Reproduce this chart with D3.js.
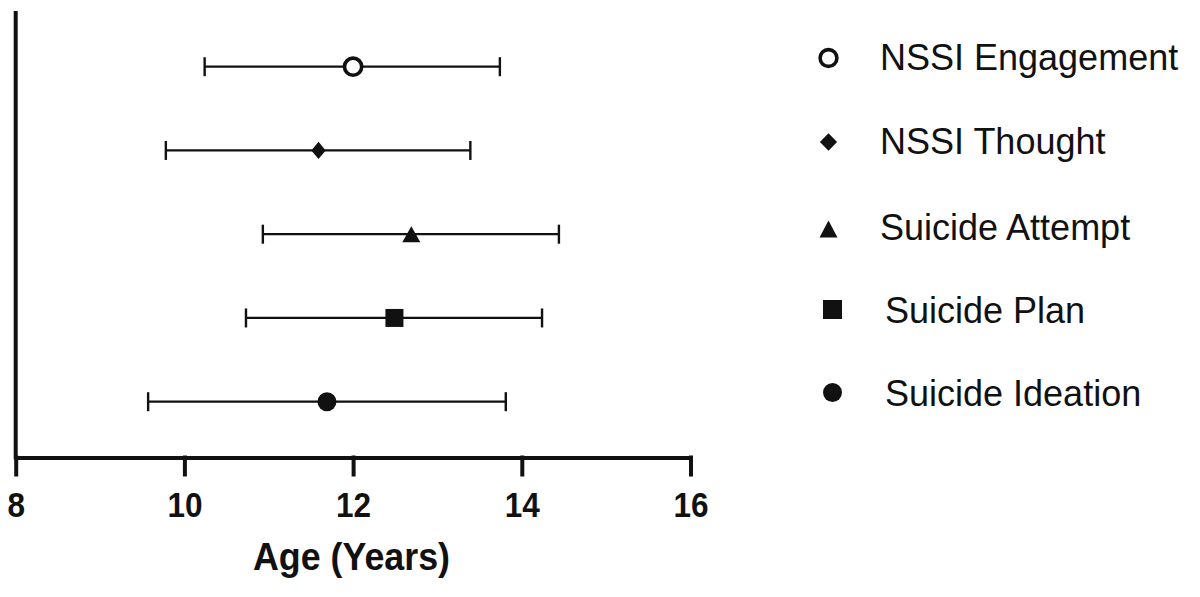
<!DOCTYPE html>
<html>
<head>
<meta charset="utf-8">
<script src="https://cdn.jsdelivr.net/npm/d3@7"></script>
<style>
  html, body { margin: 0; padding: 0; background: #fff; }
  svg { display: block; }
</style>
</head>
<body>
<svg id="chart" width="1200" height="597"></svg>
<script>
// ---- Data ----
const categories = ["NSSI Engagement", "NSSI Thought", "Suicide Attempt", "Suicide Plan", "Suicide Ideation"];
const meanAge   = [12.00, 11.59, 12.69, 12.49, 11.69];
const lowerAge  = [10.24,  9.78, 10.93, 10.73,  9.57];
const upperAge  = [13.74, 13.39, 14.44, 14.24, 13.81];
const markerTypes = ["circleOpen", "diamond", "triangle", "square", "circleFilled"];
const xTicks = [8, 10, 12, 14, 16];
const xTitle = "Age (Years)";

const ink = "#111";
const svg = d3.select("#chart");

const x = d3.scaleLinear().domain([8, 16]).range([15.7, 690.5]);
const y = d3.scalePoint().domain(categories).range([66.7, 401.7]);

// ---- marker drawing ----
function markerPath(type, s) {
  const p = d3.path();
  if (type === "circleOpen" || type === "circleFilled") {
    p.arc(0, 0, s.r, 0, 2 * Math.PI);
  } else if (type === "diamond") {
    p.moveTo(0, -s.hh); p.lineTo(s.hw, 0); p.lineTo(0, s.hh); p.lineTo(-s.hw, 0); p.closePath();
  } else if (type === "triangle") {
    p.moveTo(0, -s.h / 2); p.lineTo(s.w / 2, s.h / 2); p.lineTo(-s.w / 2, s.h / 2); p.closePath();
  } else if (type === "square") {
    p.rect(-s.a / 2, -s.a / 2, s.a, s.a);
  }
  return p.toString();
}
const chartSizes = {
  circleOpen: { r: 8.6 }, diamond: { hw: 7.2, hh: 8.6 }, triangle: { w: 18, h: 16 },
  square: { a: 18 }, circleFilled: { r: 9.5 }
};
const legendSizes = {
  circleOpen: { r: 8.4 }, diamond: { hw: 8.6, hh: 8.8 }, triangle: { w: 18, h: 17 },
  square: { a: 19 }, circleFilled: { r: 9.5 }
};
function styleMarker(sel, type) {
  if (type === "circleOpen") sel.attr("fill", "#fff").attr("stroke", ink).attr("stroke-width", 3.6);
  else sel.attr("fill", ink).attr("stroke", "none");
}

// ---- axes ----
const xAxis = d3.axisBottom(x).tickValues(xTicks).tickSize(19).tickSizeOuter(0).tickFormat(d3.format("d"));
const gx = svg.append("g").attr("transform", "translate(0,457.5)").call(xAxis);
gx.select(".domain").attr("stroke", ink).attr("stroke-width", 4);
gx.selectAll(".tick line").attr("stroke", ink).attr("stroke-width", 4).attr("y1", -2);
gx.selectAll(".tick text")
  .attr("fill", ink)
  .attr("y", 34.5).attr("dy", "0.71em")
  .style("font-family", "'Liberation Sans', Arial, sans-serif")
  .style("font-weight", "bold")
  .style("font-size", "35px")
  .attr("transform", function() { const t = d3.select(this.parentNode).attr("transform"); return null; });
// slight horizontal condensing of tick labels
gx.selectAll(".tick text").each(function() {
  const t = d3.select(this);
  t.attr("transform", "scale(0.9,1)");
});

// y axis line
svg.append("line")
  .attr("x1", x(8)).attr("x2", x(8))
  .attr("y1", 11).attr("y2", 459.5)
  .attr("stroke", ink).attr("stroke-width", 4);

// axis title
svg.append("text")
  .attr("x", 351.5).attr("y", 570)
  .attr("text-anchor", "middle")
  .attr("textLength", 197).attr("lengthAdjust", "spacingAndGlyphs")
  .style("font-family", "'Liberation Sans', Arial, sans-serif")
  .style("font-weight", "bold").style("font-size", "38px")
  .attr("fill", ink)
  .text(xTitle);

// ---- error bars ----
const rows = categories.map((c, i) => ({ c, m: meanAge[i], lo: lowerAge[i], hi: upperAge[i], type: markerTypes[i] }));
const g = svg.append("g");
g.selectAll("line.err").data(rows).join("line")
  .attr("class", "err")
  .attr("x1", d => x(d.lo)).attr("x2", d => x(d.hi))
  .attr("y1", d => y(d.c)).attr("y2", d => y(d.c))
  .attr("stroke", ink).attr("stroke-width", 2.2);
g.selectAll("line.capL").data(rows).join("line")
  .attr("class", "capL")
  .attr("x1", d => x(d.lo)).attr("x2", d => x(d.lo))
  .attr("y1", d => y(d.c) - 9.5).attr("y2", d => y(d.c) + 9.5)
  .attr("stroke", ink).attr("stroke-width", 2.4);
g.selectAll("line.capR").data(rows).join("line")
  .attr("class", "capR")
  .attr("x1", d => x(d.hi)).attr("x2", d => x(d.hi))
  .attr("y1", d => y(d.c) - 9.5).attr("y2", d => y(d.c) + 9.5)
  .attr("stroke", ink).attr("stroke-width", 2.4);
g.selectAll("path.mk").data(rows).join("path")
  .attr("class", "mk")
  .attr("transform", d => `translate(${x(d.m)},${y(d.c)})`)
  .attr("d", d => markerPath(d.type, chartSizes[d.type]))
  .each(function(d) { styleMarker(d3.select(this), d.type); });

// ---- legend ----
const legendRows = [
  { mx: 828.5, my: 58,  tx: 880, ty: 57 },
  { mx: 828.5, my: 142, tx: 880, ty: 141 },
  { mx: 828.5, my: 229, tx: 880, ty: 227 },
  { mx: 832.5, my: 309.5, tx: 885, ty: 310 },
  { mx: 832.5, my: 392.5, tx: 885, ty: 393 }
];
const lg = svg.append("g");
categories.forEach((c, i) => {
  const L = legendRows[i];
  const type = markerTypes[i];
  const mk = lg.append("path")
    .attr("transform", `translate(${L.mx},${L.my})`)
    .attr("d", markerPath(type, legendSizes[type]));
  styleMarker(mk, type);
  lg.append("text")
    .attr("x", L.tx).attr("y", L.ty + 12.9)
    .style("font-family", "'Liberation Sans', Arial, sans-serif")
    .style("font-size", "36px")
    .attr("fill", ink)
    .text(c);
});
</script>
</body>
</html>
